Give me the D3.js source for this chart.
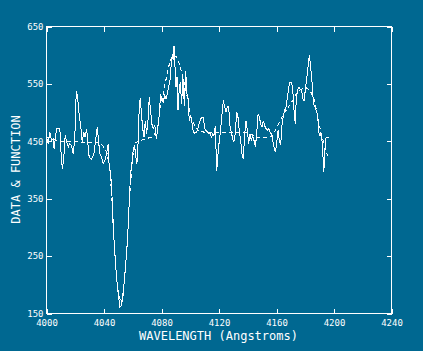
<!DOCTYPE html>
<html>
<head>
<meta charset="utf-8">
<script src="https://cdn.jsdelivr.net/npm/d3@7"></script>
<style>
  html, body { margin: 0; padding: 0; background: #006891; }
  svg { display: block; }
</style>
</head>
<body>
<div id="chart"></div>
<script>
// spectrum: observed data (solid) and fitted function (dashed)
const dataWave = [4000.0,4001.2,4002.3,4003.5,4004.6,4005.3,4007.0,4008.1,4009.3,4010.4,
  4011.1,4012.1,4013.0,4013.9,4015.1,4016.2,4017.4,4018.6,4019.7,4020.7,
  4021.6,4022.7,4023.9,4024.8,4026.0,4026.9,4027.9,4029.0,4029.7,4031.3,
  4033.0,4034.4,4035.3,4036.2,4037.1,4038.3,4039.5,4040.6,4041.8,4042.9,
  4043.6,4044.6,4045.5,4046.4,4047.6,4048.7,4049.9,4051.1,4052.2,4053.4,
  4054.5,4055.7,4056.9,4057.6,4058.5,4059.4,4060.3,4061.3,4062.2,4062.9,
  4063.8,4064.5,4065.2,4065.9,4066.8,4067.8,4068.7,4069.6,4070.6,4071.5,
  4072.4,4073.3,4074.3,4075.4,4076.4,4077.5,4078.4,4079.4,4080.3,4081.2,
  4082.2,4083.1,4084.0,4084.9,4085.9,4086.8,4087.5,4088.2,4088.7,4089.4,
  4090.1,4090.8,4091.5,4092.4,4093.1,4094.0,4094.9,4095.9,4096.8,4097.7,
  4098.6,4099.3,4100.3,4101.2,4102.1,4103.3,4104.4,4105.6,4106.8,4107.9,
  4109.1,4110.0,4111.2,4112.1,4113.0,4114.0,4114.7,4115.6,4116.5,4117.4,
  4118.4,4119.3,4120.2,4121.2,4122.1,4123.0,4123.9,4124.9,4125.8,4126.7,
  4127.7,4128.6,4129.5,4130.4,4131.4,4132.3,4133.2,4134.2,4135.1,4136.0,
  4136.9,4137.9,4138.8,4139.7,4140.6,4141.6,4142.5,4143.4,4144.4,4145.3,
  4146.2,4147.2,4148.1,4149.0,4149.9,4150.9,4151.8,4152.7,4153.7,4154.6,
  4155.5,4156.4,4157.4,4158.3,4159.2,4160.1,4161.1,4162.0,4162.9,4163.9,
  4164.8,4165.7,4166.6,4167.6,4168.5,4169.4,4170.4,4171.3,4172.2,4173.1,
  4173.6,4174.5,4175.5,4176.4,4177.3,4178.3,4179.2,4180.1,4181.0,4182.0,
  4182.9,4183.8,4184.8,4185.7,4186.6,4187.5,4188.5,4189.4,4190.3,4191.3,
  4192.2,4192.9,4193.6,4194.5,4195.4,4196.8];
const dataFlux = [457,446,466,451,454,437,472,473,472,417,
  402,425,460,451,440,446,443,428,457,538,
  527,498,475,449,466,457,472,440,422,419,
  428,457,475,451,428,422,411,417,428,446,
  405,395,359,300,254,213,184,161,164,184,
  219,254,306,347,394,411,434,443,422,411,
  451,509,525,504,475,457,486,463,486,527,
  504,480,472,477,454,475,495,533,521,518,
  530,524,533,544,556,585,602,591,616,579,
  544,562,504,544,553,515,562,512,573,533,
  524,486,495,483,466,464,466,475,486,492,
  492,472,468,466,464,463,457,463,460,477,
  399,428,451,472,498,521,510,501,510,510,
  475,466,454,449,466,501,492,466,451,428,
  419,463,486,469,446,463,451,460,451,440,
  463,498,492,480,475,486,477,472,469,472,
  466,463,451,440,431,446,469,451,443,480,
  495,504,510,527,544,553,553,541,504,480,
  515,538,544,541,541,524,521,541,559,582,
  600,579,550,515,512,504,498,466,460,463,
  431,396,434,457,457,457];

const funcWave = [4000,4004,4008,4015,4020,4030,4036,4039,4042,4044,
  4046,4048,4050,4052,4054,4056,4058,4060,4062,4066,
  4070,4074,4077,4079,4082,4084,4086,4088,4090,4092,
  4094,4096,4098,4100,4103,4106,4110,4120,4130,4138,
  4142,4146,4152,4157,4161,4165,4170,4175,4180,4183,
  4186,4189,4191,4194,4196];
const funcFlux = [458,454,451,449,449,448,447,443,430,405,
  330,235,185,168,200,265,360,425,448,452,
  455,458,470,504,544,568,591,600,598,588,
  570,550,526,495,478,467,466,466,466,466,
  462,457,457,458,478,498,516,538,544,540,
  525,490,463,440,420];

const xTicks = [4000, 4040, 4080, 4120, 4160, 4200, 4240];
const yTicks = [150, 250, 350, 450, 550, 650];

const W = 423, H = 351;
const m = { left: 46, right: 32, top: 26, bottom: 38 };
const FG = '#ffffff';
const MONO = '"DejaVu Sans Mono", monospace';

const svg = d3.select('#chart').append('svg')
  .attr('width', W).attr('height', H);
svg.append('rect').attr('width', W).attr('height', H).attr('fill', '#006891');

const x = d3.scaleLinear().domain([4000, 4240]).range([m.left, W - m.right]);
const y = d3.scaleLinear().domain([150, 650]).range([H - m.bottom, m.top]);

const g = svg.append('g').attr('transform', 'translate(0.5,0.5)');

// frame
g.append('rect')
  .attr('x', x(4000)).attr('y', y(650))
  .attr('width', x(4240) - x(4000)).attr('height', y(150) - y(650))
  .attr('fill', 'none').attr('stroke', FG).attr('stroke-width', 1)
  .attr('shape-rendering', 'crispEdges');

// inward ticks on all four sides
const tk = 5;
const axisStyle = sel => {
  sel.select('.domain').remove();
  sel.selectAll('.tick line').attr('stroke', FG).attr('shape-rendering', 'crispEdges');
  sel.selectAll('.tick text').attr('fill', FG).attr('font-family', MONO).attr('font-size', 9);
};
const xAxis = g.append('g').attr('transform', `translate(0,${y(150)})`)
  .call(d3.axisBottom(x).tickValues(xTicks).tickSize(-tk).tickFormat(d3.format('d')))
  .call(axisStyle);
// bottom labels sit just under the frame, below the "150" label
xAxis.selectAll('.tick text').attr('y', 9).attr('dy', '0.35em');
g.append('g').attr('transform', `translate(0,${y(650)})`)
  .call(d3.axisTop(x).tickValues(xTicks).tickSize(-tk).tickFormat(''))
  .call(axisStyle);
g.append('g').attr('transform', `translate(${x(4000)},0)`)
  .call(d3.axisLeft(y).tickValues(yTicks).tickSize(-tk).tickPadding(3).tickFormat(d3.format('d')))
  .call(axisStyle);
g.append('g').attr('transform', `translate(${x(4240)},0)`)
  .call(d3.axisRight(y).tickValues(yTicks).tickSize(-tk).tickFormat(''))
  .call(axisStyle);

const line = d3.line().x(d => x(d[0])).y(d => y(d[1]));

// function (dashed)
g.append('path')
  .datum(d3.zip(funcWave, funcFlux))
  .attr('d', line)
  .attr('fill', 'none').attr('stroke', FG).attr('stroke-width', 1)
  .attr('stroke-dasharray', '4,3')
  .attr('shape-rendering', 'crispEdges');

// data (solid)
g.append('path')
  .datum(d3.zip(dataWave, dataFlux))
  .attr('d', line)
  .attr('fill', 'none').attr('stroke', FG).attr('stroke-width', 1)
  .attr('shape-rendering', 'crispEdges');

// axis titles
svg.append('text')
  .attr('x', (x(4000) + x(4240)) / 2).attr('y', 336)
  .attr('text-anchor', 'middle').attr('dominant-baseline', 'central')
  .attr('fill', FG).attr('font-family', MONO).attr('font-size', 12)
  .text('WAVELENGTH (Angstroms)');
svg.append('text')
  .attr('transform', `translate(16,${(y(150) + y(650)) / 2}) rotate(-90)`)
  .attr('text-anchor', 'middle').attr('dominant-baseline', 'central')
  .attr('fill', FG).attr('font-family', MONO).attr('font-size', 12)
  .text('DATA & FUNCTION');
</script>
</body>
</html>
